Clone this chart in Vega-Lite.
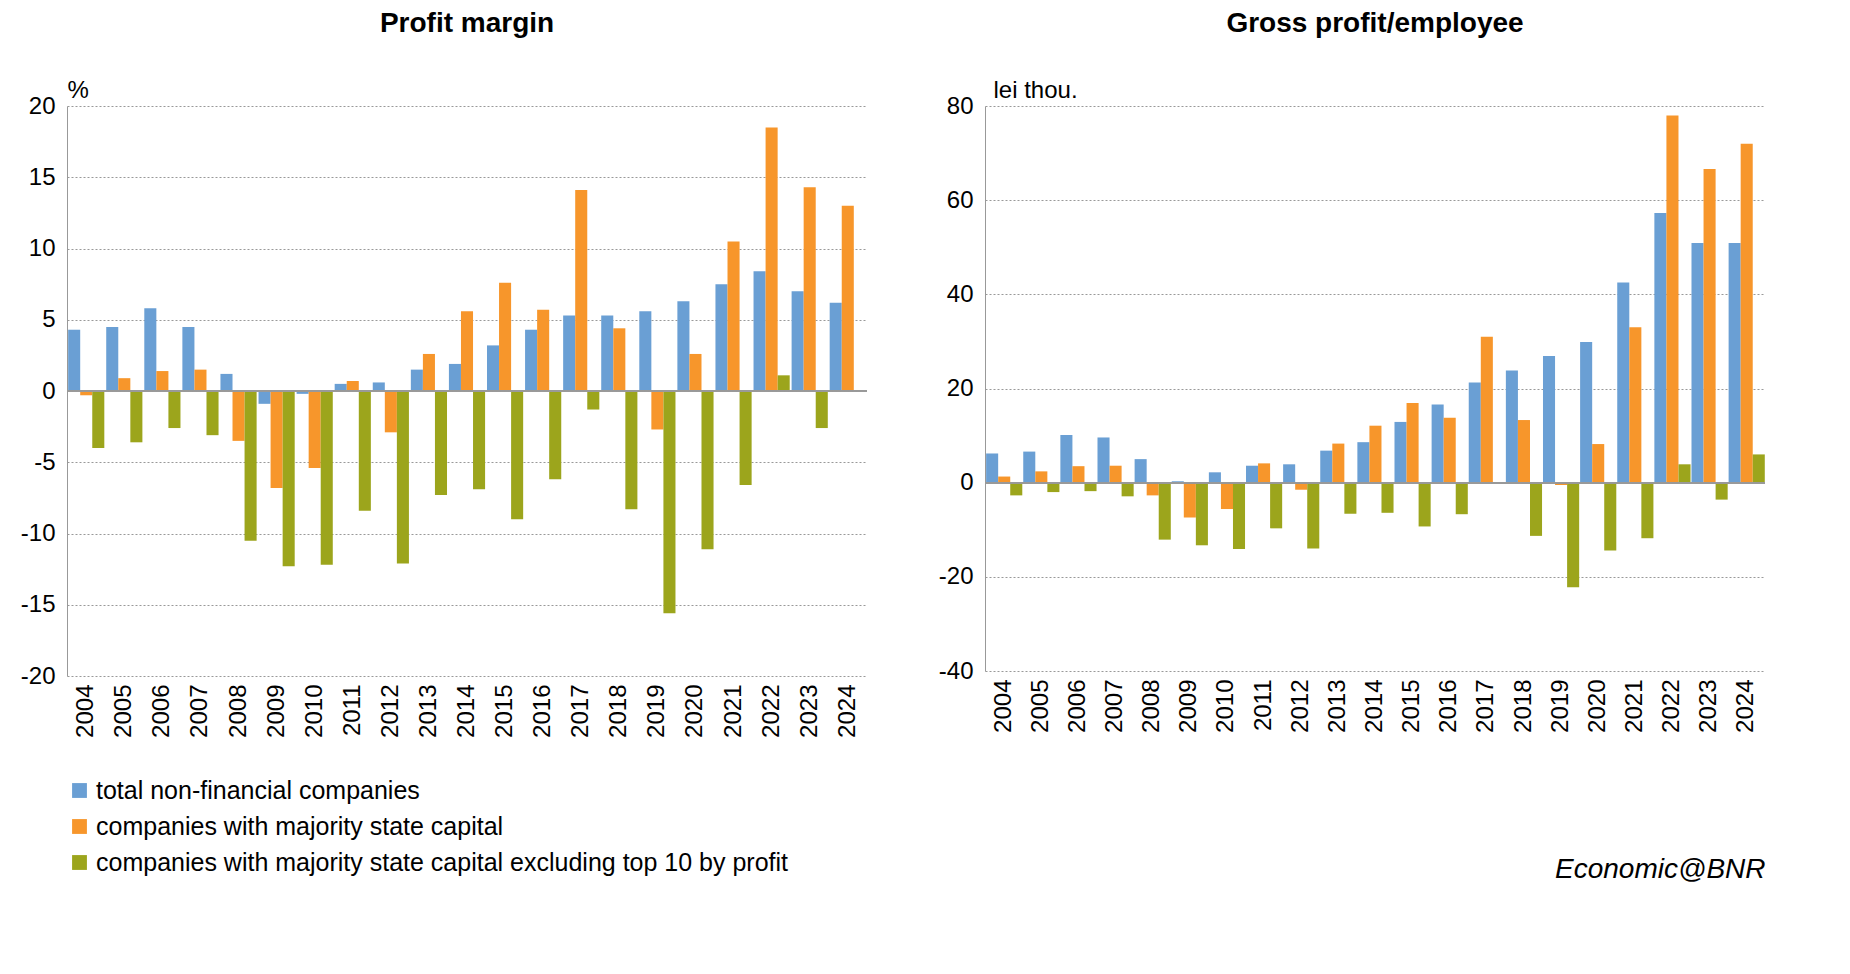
{
  "$schema": "https://vega.github.io/schema/vega-lite/v6.json",
  "background": "white",
  "padding": {"left": 20, "top": 10, "right": 20, "bottom": 10},
  "config": {
    "font": "Liberation Sans",
    "view": {"stroke": null},
    "axis": {"labelFont": "Liberation Sans", "labelFontSize": 24, "labelColor": "#000", "titleFont": "Liberation Sans", "titleFontSize": 24, "titleFontWeight": "normal", "titleColor": "#000", "labelOverlap": false},
    "concat": {"spacing": 70}
  },
  "title": {"text": "Economic@BNR", "orient": "bottom", "anchor": "end", "fontSize": 28, "fontStyle": "italic", "fontWeight": "normal", "offset": -20},
  "datasets": {
    "pm": [
      {"year": "2004", "total non-financial companies": 4.3, "companies with majority state capital": -0.3, "companies with majority state capital excluding top 10 by profit": -4.0},
      {"year": "2005", "total non-financial companies": 4.5, "companies with majority state capital": 0.9, "companies with majority state capital excluding top 10 by profit": -3.6},
      {"year": "2006", "total non-financial companies": 5.8, "companies with majority state capital": 1.4, "companies with majority state capital excluding top 10 by profit": -2.6},
      {"year": "2007", "total non-financial companies": 4.5, "companies with majority state capital": 1.5, "companies with majority state capital excluding top 10 by profit": -3.1},
      {"year": "2008", "total non-financial companies": 1.2, "companies with majority state capital": -3.5, "companies with majority state capital excluding top 10 by profit": -10.5},
      {"year": "2009", "total non-financial companies": -0.9, "companies with majority state capital": -6.8, "companies with majority state capital excluding top 10 by profit": -12.3},
      {"year": "2010", "total non-financial companies": -0.2, "companies with majority state capital": -5.4, "companies with majority state capital excluding top 10 by profit": -12.2},
      {"year": "2011", "total non-financial companies": 0.5, "companies with majority state capital": 0.7, "companies with majority state capital excluding top 10 by profit": -8.4},
      {"year": "2012", "total non-financial companies": 0.6, "companies with majority state capital": -2.9, "companies with majority state capital excluding top 10 by profit": -12.1},
      {"year": "2013", "total non-financial companies": 1.5, "companies with majority state capital": 2.6, "companies with majority state capital excluding top 10 by profit": -7.3},
      {"year": "2014", "total non-financial companies": 1.9, "companies with majority state capital": 5.6, "companies with majority state capital excluding top 10 by profit": -6.9},
      {"year": "2015", "total non-financial companies": 3.2, "companies with majority state capital": 7.6, "companies with majority state capital excluding top 10 by profit": -9.0},
      {"year": "2016", "total non-financial companies": 4.3, "companies with majority state capital": 5.7, "companies with majority state capital excluding top 10 by profit": -6.2},
      {"year": "2017", "total non-financial companies": 5.3, "companies with majority state capital": 14.1, "companies with majority state capital excluding top 10 by profit": -1.3},
      {"year": "2018", "total non-financial companies": 5.3, "companies with majority state capital": 4.4, "companies with majority state capital excluding top 10 by profit": -8.3},
      {"year": "2019", "total non-financial companies": 5.6, "companies with majority state capital": -2.7, "companies with majority state capital excluding top 10 by profit": -15.6},
      {"year": "2020", "total non-financial companies": 6.3, "companies with majority state capital": 2.6, "companies with majority state capital excluding top 10 by profit": -11.1},
      {"year": "2021", "total non-financial companies": 7.5, "companies with majority state capital": 10.5, "companies with majority state capital excluding top 10 by profit": -6.6},
      {"year": "2022", "total non-financial companies": 8.4, "companies with majority state capital": 18.5, "companies with majority state capital excluding top 10 by profit": 1.1},
      {"year": "2023", "total non-financial companies": 7.0, "companies with majority state capital": 14.3, "companies with majority state capital excluding top 10 by profit": -2.6},
      {"year": "2024", "total non-financial companies": 6.2, "companies with majority state capital": 13.0, "companies with majority state capital excluding top 10 by profit": 0}
    ],
    "gp": [
      {"year": "2004", "total non-financial companies": 6.2, "companies with majority state capital": 1.3, "companies with majority state capital excluding top 10 by profit": -2.7},
      {"year": "2005", "total non-financial companies": 6.6, "companies with majority state capital": 2.4, "companies with majority state capital excluding top 10 by profit": -2.0},
      {"year": "2006", "total non-financial companies": 10.1, "companies with majority state capital": 3.5, "companies with majority state capital excluding top 10 by profit": -1.8},
      {"year": "2007", "total non-financial companies": 9.6, "companies with majority state capital": 3.6, "companies with majority state capital excluding top 10 by profit": -2.9},
      {"year": "2008", "total non-financial companies": 5.0, "companies with majority state capital": -2.7, "companies with majority state capital excluding top 10 by profit": -12.1},
      {"year": "2009", "total non-financial companies": 0.3, "companies with majority state capital": -7.4, "companies with majority state capital excluding top 10 by profit": -13.3},
      {"year": "2010", "total non-financial companies": 2.2, "companies with majority state capital": -5.6, "companies with majority state capital excluding top 10 by profit": -14.1},
      {"year": "2011", "total non-financial companies": 3.6, "companies with majority state capital": 4.1, "companies with majority state capital excluding top 10 by profit": -9.7},
      {"year": "2012", "total non-financial companies": 3.9, "companies with majority state capital": -1.5, "companies with majority state capital excluding top 10 by profit": -14.0},
      {"year": "2013", "total non-financial companies": 6.8, "companies with majority state capital": 8.3, "companies with majority state capital excluding top 10 by profit": -6.6},
      {"year": "2014", "total non-financial companies": 8.6, "companies with majority state capital": 12.1, "companies with majority state capital excluding top 10 by profit": -6.4},
      {"year": "2015", "total non-financial companies": 12.9, "companies with majority state capital": 16.9, "companies with majority state capital excluding top 10 by profit": -9.3},
      {"year": "2016", "total non-financial companies": 16.6, "companies with majority state capital": 13.8, "companies with majority state capital excluding top 10 by profit": -6.7},
      {"year": "2017", "total non-financial companies": 21.3, "companies with majority state capital": 31.0, "companies with majority state capital excluding top 10 by profit": 0},
      {"year": "2018", "total non-financial companies": 23.8, "companies with majority state capital": 13.3, "companies with majority state capital excluding top 10 by profit": -11.3},
      {"year": "2019", "total non-financial companies": 26.9, "companies with majority state capital": -0.5, "companies with majority state capital excluding top 10 by profit": -22.2},
      {"year": "2020", "total non-financial companies": 29.9, "companies with majority state capital": 8.2, "companies with majority state capital excluding top 10 by profit": -14.4},
      {"year": "2021", "total non-financial companies": 42.5, "companies with majority state capital": 33.0, "companies with majority state capital excluding top 10 by profit": -11.8},
      {"year": "2022", "total non-financial companies": 57.3, "companies with majority state capital": 78.0, "companies with majority state capital excluding top 10 by profit": 3.9},
      {"year": "2023", "total non-financial companies": 50.9, "companies with majority state capital": 66.6, "companies with majority state capital excluding top 10 by profit": -3.6},
      {"year": "2024", "total non-financial companies": 50.9, "companies with majority state capital": 72.0, "companies with majority state capital excluding top 10 by profit": 6.0}
    ]
  },
  "resolve": {"legend": {"color": "independent"}},
  "hconcat": [
    {
      "title": {"text": "Profit margin", "fontSize": 28, "fontWeight": "bold", "offset": 40},
      "width": 800,
      "height": 570,
      "data": {"name": "pm"},
      "transform": [{"fold": ["total non-financial companies", "companies with majority state capital", "companies with majority state capital excluding top 10 by profit"], "as": ["series", "value"]}],
      "layer": [
        {
          "mark": {"type": "bar"},
          "encoding": {
            "x": {"field": "year", "type": "nominal", "scale": {"paddingInner": 0.05, "paddingOuter": 0.03}, "axis": {"title": null, "labelAngle": -90, "domain": false, "ticks": false, "labelPadding": 8}},
            "xOffset": {"field": "series", "sort": null},
            "y": {"field": "value", "type": "quantitative", "scale": {"domain": [-20, 20]}, "axis": {"title": "%", "titleAngle": 0, "titleAnchor": "end", "titleAlign": "left", "titleBaseline": "bottom", "titleX": 0, "titleY": -4, "values": [-20, -15, -10, -5, 0, 5, 10, 15, 20], "labelExpr": "replace(datum.label, '\u2212', '-')", "grid": true, "gridDash": [2, 2], "gridColor": "#999", "ticks": false, "domainColor": "#999", "labelPadding": 12}},
            "color": {"field": "series", "type": "nominal", "scale": {"domain": ["total non-financial companies", "companies with majority state capital", "companies with majority state capital excluding top 10 by profit"], "range": ["#6a9fd4", "#f7962b", "#9ca51c"]}, "legend": {"title": null, "orient": "bottom", "direction": "vertical", "symbolType": "square", "symbolSize": 220, "labelFontSize": 25, "labelFont": "Liberation Sans", "labelLimit": 1000, "offset": 40, "rowPadding": 10}}
          }
        },
        {"mark": {"type": "rule", "color": "#999"}, "encoding": {"y": {"datum": 0}}}
      ]
    },
    {
      "title": {"text": "Gross profit/employee", "fontSize": 28, "fontWeight": "bold", "offset": 40},
      "width": 780,
      "height": 565,
      "data": {"name": "gp"},
      "transform": [{"fold": ["total non-financial companies", "companies with majority state capital", "companies with majority state capital excluding top 10 by profit"], "as": ["series", "value"]}],
      "layer": [
        {
          "mark": {"type": "bar"},
          "encoding": {
            "x": {"field": "year", "type": "nominal", "scale": {"paddingInner": 0.05, "paddingOuter": 0.03}, "axis": {"title": null, "labelAngle": -90, "domain": false, "ticks": false, "labelPadding": 8}},
            "xOffset": {"field": "series", "sort": null},
            "y": {"field": "value", "type": "quantitative", "scale": {"domain": [-40, 80]}, "axis": {"title": "lei thou.", "titleAngle": 0, "titleAnchor": "end", "titleAlign": "left", "titleBaseline": "top", "titleX": 8, "titleY": -28, "values": [-40, -20, 0, 20, 40, 60, 80], "labelExpr": "replace(datum.label, '\u2212', '-')", "grid": true, "gridDash": [2, 2], "gridColor": "#999", "ticks": false, "domainColor": "#999", "labelPadding": 12}},
            "color": {"field": "series", "type": "nominal", "scale": {"domain": ["total non-financial companies", "companies with majority state capital", "companies with majority state capital excluding top 10 by profit"], "range": ["#6a9fd4", "#f7962b", "#9ca51c"]}, "legend": null}
          }
        },
        {"mark": {"type": "rule", "color": "#999"}, "encoding": {"y": {"datum": 0}}}
      ]
    }
  ]
}
